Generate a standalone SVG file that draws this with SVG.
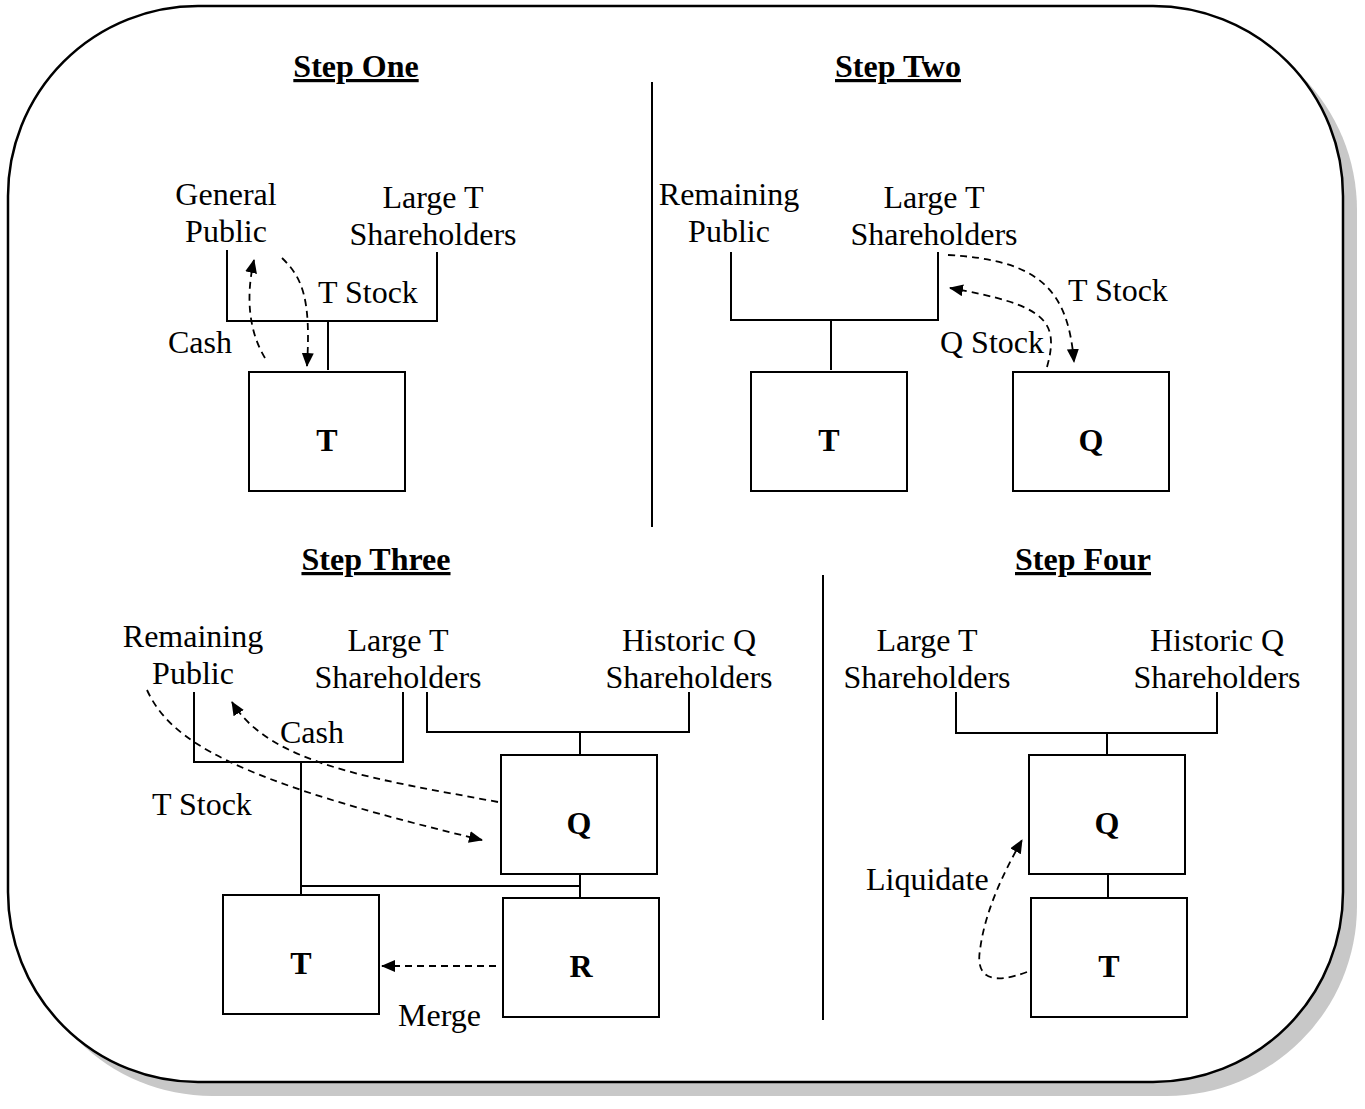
<svg xmlns="http://www.w3.org/2000/svg" width="1365" height="1109" viewBox="0 0 1365 1109">
<defs>
<style>
text{font-family:"Liberation Serif","Times New Roman",serif;font-size:32px;fill:#000}
.t{font-weight:bold;text-decoration:underline;text-anchor:middle}
.c{text-anchor:middle}
.b{font-weight:bold;text-anchor:middle}
.ln{stroke:#000;stroke-width:2;fill:none}
.box{stroke:#000;stroke-width:2;fill:#fff}
.d{stroke:#000;stroke-width:1.8;fill:none;stroke-dasharray:7 5;marker-end:url(#ah)}
</style>
<marker id="ah" markerUnits="userSpaceOnUse" markerWidth="14" markerHeight="12" refX="13" refY="6" orient="auto">
<path d="M0,0 L14,6 L0,12 z" fill="#000"/>
</marker>
</defs>
<rect x="22" y="20" width="1335" height="1076" rx="190" ry="190" fill="#c8c8c8"/>
<rect x="8" y="6" width="1335" height="1076" rx="190" ry="190" fill="#fff" stroke="#000" stroke-width="2.5"/>

<g id="titles">
<text class="t" x="356" y="77">Step One</text>
<text class="t" x="898" y="77">Step Two</text>
<text class="t" x="376" y="570">Step Three</text>
<text class="t" x="1083" y="570">Step Four</text>
</g>

<g id="dividers">
<line class="ln" x1="652" y1="82" x2="652" y2="527"/>
<line class="ln" x1="823" y1="575" x2="823" y2="1020"/>
</g>

<!-- Step One -->
<g id="s1-general-public"><text class="c" x="226" y="205">General</text><text class="c" x="226" y="242">Public</text></g>
<g id="s1-large-t"><text class="c" x="433" y="208">Large T</text><text class="c" x="433" y="245">Shareholders</text></g>
<g id="s1-T"><rect class="box" x="249" y="372" width="156" height="119"/><text class="b" x="327" y="451">T</text></g>

<!-- Step Two -->
<g id="s2-remaining-public"><text class="c" x="729" y="205">Remaining</text><text class="c" x="729" y="242">Public</text></g>
<g id="s2-large-t"><text class="c" x="934" y="208">Large T</text><text class="c" x="934" y="245">Shareholders</text></g>
<g id="s2-T"><rect class="box" x="751" y="372" width="156" height="119"/><text class="b" x="829" y="451">T</text></g>
<g id="s2-Q"><rect class="box" x="1013" y="372" width="156" height="119"/><text class="b" x="1091" y="451">Q</text></g>

<!-- Step Three -->
<g id="s3-remaining-public"><text class="c" x="193" y="647">Remaining</text><text class="c" x="193" y="684">Public</text></g>
<g id="s3-large-t"><text class="c" x="398" y="651">Large T</text><text class="c" x="398" y="688">Shareholders</text></g>
<g id="s3-historic-q"><text class="c" x="689" y="651">Historic Q</text><text class="c" x="689" y="688">Shareholders</text></g>
<g id="s3-Q"><rect class="box" x="501" y="755" width="156" height="119"/><text class="b" x="579" y="834">Q</text></g>
<g id="s3-T"><rect class="box" x="223" y="895" width="156" height="119"/><text class="b" x="301" y="974">T</text></g>
<g id="s3-R"><rect class="box" x="503" y="898" width="156" height="119"/><text class="b" x="581" y="977">R</text></g>

<!-- Step Four -->
<g id="s4-large-t"><text class="c" x="927" y="651">Large T</text><text class="c" x="927" y="688">Shareholders</text></g>
<g id="s4-historic-q"><text class="c" x="1217" y="651">Historic Q</text><text class="c" x="1217" y="688">Shareholders</text></g>
<g id="s4-Q"><rect class="box" x="1029" y="755" width="156" height="119"/><text class="b" x="1107" y="834">Q</text></g>
<g id="s4-T"><rect class="box" x="1031" y="898" width="156" height="119"/><text class="b" x="1109" y="977">T</text></g>

<g id="connectors">
<!-- Step One -->
<path class="ln" d="M227,250 V321 H437 V252"/>
<line class="ln" x1="328" y1="322" x2="328" y2="370"/>
<path class="d" d="M265,358 C248,330 246,295 254,260"/>
<path class="d" d="M282,258 C303,278 311,300 307,366"/>
<!-- Step Two -->
<path class="ln" d="M731,252 V320 H938 V252"/>
<line class="ln" x1="831" y1="321" x2="831" y2="370"/>
<path class="d" d="M948,255 C1040,260 1068,290 1074,362"/>
<path class="d" d="M1047,367 C1060,320 1045,305 950,288"/>
<!-- Step Three -->
<path class="ln" d="M194,692 V762 H403 V692"/>
<path class="ln" d="M427,692 V732 H689 V692"/>
<line class="ln" x1="580" y1="732" x2="580" y2="755"/>
<line class="ln" x1="301" y1="762" x2="301" y2="895"/>
<path class="ln" d="M301,886 H580"/>
<line class="ln" x1="580" y1="874" x2="580" y2="898"/>
<path class="d" d="M498,802 C380,780 270,765 232,702"/>
<path class="d" d="M147,690 C170,740 230,780 482,840"/>
<path class="d" d="M496,966 L382,966"/>
<!-- Step Four -->
<path class="ln" d="M956,692 V733 H1217 V692"/>
<line class="ln" x1="1107" y1="733" x2="1107" y2="755"/>
<line class="ln" x1="1108" y1="874" x2="1108" y2="898"/>
<path class="d" d="M1027,972 C995,984 975,980 980,950 C985,910 1005,870 1022,840"/>
</g>

<g id="connector-labels">
<text x="168" y="353">Cash</text>
<text x="318" y="303">T Stock</text>
<text x="1068" y="301">T Stock</text>
<text x="940" y="353">Q Stock</text>
<text x="280" y="743">Cash</text>
<text x="152" y="815">T Stock</text>
<text x="398" y="1026">Merge</text>
<text x="866" y="890">Liquidate</text>
</g>
</svg>
